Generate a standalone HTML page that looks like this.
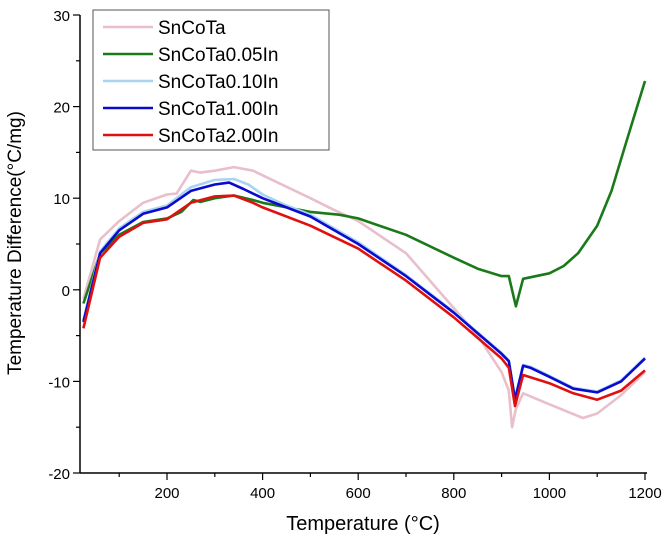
<!DOCTYPE html>
<html><head><meta charset="utf-8"><style>
body{margin:0;background:#fff;}
svg text{font-family:"Liberation Sans",Arial,sans-serif;fill:#000;}
</style></head><body>
<svg id="chart" width="666" height="546" viewBox="0 0 666 546" xmlns="http://www.w3.org/2000/svg">
<g id="axes"></g>
<g id="series"></g>
<g id="legend"></g>
<text x="363" y="530" font-size="20" text-anchor="middle">Temperature (°C)</text>
<text transform="translate(21,243) rotate(-90)" font-size="19" text-anchor="middle">Temperature Difference(°C/mg)</text>
</svg>
<script>
const xTicks=[200,400,600,800,1000,1200];
const yTicks=[-20,-10,0,10,20,30];
const seriesNames=["SnCoTa","SnCoTa0.05In","SnCoTa0.10In","SnCoTa1.00In","SnCoTa2.00In"];
const seriesColors=["#e8bfca","#1a7a1a","#a8d4f0","#0a0ad0","#e01010"];
const tSnCoTa=[25,60,100,150,200,220,250,270,300,340,380,400,500,550,600,700,800,850,900,915,922,930,945,1000,1070,1100,1150,1200];
const vSnCoTa=[-1,5.5,7.5,9.5,10.4,10.5,13,12.8,13,13.4,13,12.5,10,8.7,7.5,4,-2,-5,-9,-11,-15,-13,-11.3,-12.5,-14,-13.5,-11.5,-9];
const tGreen=[25,60,100,150,200,230,255,270,300,340,380,400,500,560,600,700,800,850,900,915,930,945,1000,1030,1060,1100,1130,1160,1200];
const vGreen=[-1.5,4,6,7.4,7.8,8.5,9.8,9.6,10,10.3,9.8,9.5,8.5,8.2,7.8,6,3.5,2.3,1.5,1.5,-1.8,1.2,1.8,2.6,4,7,10.8,16,22.8];
const tLBlue=[25,60,100,150,200,250,300,340,370,400,450,500,600,700,800,900,915,928,945,960,1000,1050,1100,1150,1200];
const vLBlue=[-3.3,4.2,6.7,8.5,9.2,11.2,12,12.1,11.5,10.4,9.2,8.2,5.2,1.6,-2.4,-6.9,-7.7,-11.8,-8.2,-8.4,-9.4,-10.7,-11.1,-9.9,-7.4];
const tBlue=[25,60,100,150,200,250,300,330,360,400,450,500,600,700,800,900,915,928,945,960,1000,1050,1100,1150,1200];
const vBlue=[-3.5,4,6.5,8.3,9,10.8,11.5,11.7,11,10,9,8,5,1.5,-2.5,-7,-7.8,-12,-8.3,-8.5,-9.5,-10.8,-11.2,-10,-7.5];
const tRed=[25,60,100,150,200,250,300,340,380,400,500,560,600,700,800,900,915,928,945,1000,1050,1100,1150,1200];
const vRed=[-4.2,3.5,5.8,7.3,7.7,9.5,10.2,10.3,9.5,9,7,5.5,4.5,1,-3,-7.5,-8.5,-12.7,-9.3,-10.2,-11.3,-12,-11,-8.8];

const NS="http://www.w3.org/2000/svg";
const X0=80,X1=647,Y0=15,Y1=473;
function xs(t){return 167+(t-200)*0.478;}
function ys(v){return Y0+(30-v)*(Y1-Y0)/50;}
function mk(tag,attrs,parent){const e=document.createElementNS(NS,tag);for(const k in attrs)e.setAttribute(k,attrs[k]);parent.appendChild(e);return e;}
const axes=document.getElementById('axes');
let e=mk('line',{x1:X0,y1:Y0,x2:X0,y2:Y1,stroke:'#000','stroke-width':1.5},axes);


e=mk('line',{x1:X0,y1:Y1,x2:X1,y2:Y1,stroke:'#000','stroke-width':1.5},axes);


for(let t=100;t<=1200;t+=100){
  const x=xs(t);
  e=mk('line',{x1:x,y1:Y1,x2:x,y2:Y1+(t%200===0?7:4),stroke:'#000','stroke-width':1.2},axes);
  
  
}
xTicks.forEach(t=>{
  e=mk('text',{x:xs(t),y:Y1+25,'font-size':15,'text-anchor':'middle'},axes);
  e.textContent=t;
  
  
});
for(let v=-20;v<=30;v+=5){
  const y=ys(v);
  e=mk('line',{x1:X0,y1:y,x2:X0-(v%10===0?7:4),y2:y,stroke:'#000','stroke-width':1.2},axes);
  
  
}
yTicks.forEach(v=>{
  e=mk('text',{x:X0-10,y:ys(v)+6,'font-size':15,'text-anchor':'end'},axes);
  e.textContent=v;
  
  
});
const sData=[[tSnCoTa,vSnCoTa],[tGreen,vGreen],[tLBlue,vLBlue],[tBlue,vBlue],[tRed,vRed]];
const sg=document.getElementById('series');
sData.forEach((d,i)=>{
  const pts=d[0].map((t,j)=>xs(t).toFixed(1)+','+ys(d[1][j]).toFixed(1)).join(' ');
  const p=mk('polyline',{points:pts,fill:'none',stroke:seriesColors[i],'stroke-width':2.6,'stroke-linejoin':'round'},sg);
  
  
});
const lg=document.getElementById('legend');
e=mk('rect',{x:93,y:10,width:236,height:140,fill:'#fff',stroke:'#555','stroke-width':1},lg);


seriesNames.forEach((n,i)=>{
  const y=27+i*27;
  const g=mk('g',{},lg);
  
  
  mk('line',{x1:103,y1:y,x2:153,y2:y,stroke:seriesColors[i],'stroke-width':2.6},g);
  const t=mk('text',{x:158,y:y+7,'font-size':19},g);
  t.textContent=n;
});
</script>
</body></html>
